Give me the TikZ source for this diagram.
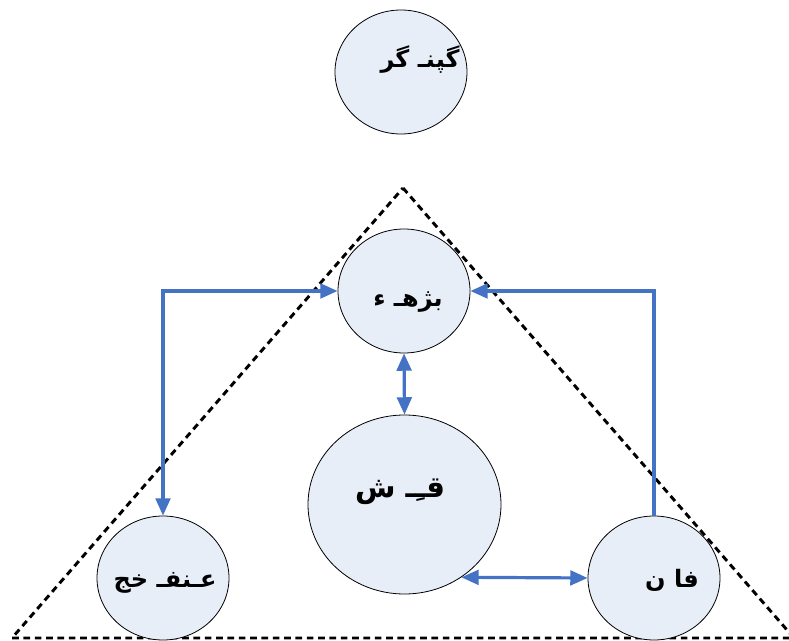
\documentclass[tikz,border=0pt]{standalone}
\usepackage{fontspec}
\newfontfamily\arabicfont[Script=Arabic]{DejaVu Sans}
\TeXXeTstate=1
\usetikzlibrary{arrows.meta,shapes.geometric}
\definecolor{cfill}{HTML}{E8EEF8}
\definecolor{cblue}{HTML}{4472C4}
\tikzset{
  bubble/.style={ellipse, draw=black, line width=0.6pt, fill=cfill, inner sep=0pt},
  tip/.tip={Triangle[length=13pt,width=11pt]},
  link/.style={draw=cblue, line width=2.4pt, -tip},
  dlink/.style={draw=cblue, line width=2.4pt, tip-tip},
  tri/.style={draw=black, line width=2.2pt, dash pattern=on 5pt off 3.5pt},
  lbl/.style={font=\arabicfont\bfseries\fontsize{18}{22}\selectfont}
}
\begin{document}
\begin{tikzpicture}[x=0.75pt,y=-0.75pt]
\useasboundingbox (0,0) rectangle (789,641);
\begin{scope}
\clip (0,0) rectangle (789,641);
% dashed triangle
\draw[tri] (403,188) -- (794,638) -- (12,638) -- cycle;
\end{scope}
% ellipses
\node[bubble, minimum width=132*0.75pt, minimum height=124*0.75pt] (top) at (401,72) {};
\node[bubble, minimum width=132*0.75pt, minimum height=124*0.75pt] (um) at (404,291) {};
\node[bubble, minimum width=193*0.75pt, minimum height=179*0.75pt] (cen) at (404.5,504.5) {};
\node[bubble, minimum width=132*0.75pt, minimum height=124*0.75pt] (bl) at (163,578) {};
\node[bubble, minimum width=132*0.75pt, minimum height=124*0.75pt] (br) at (654,578) {};
% labels
\node[lbl] (ttop) at (420,60) {\beginR گپنـ گر\endR};
\node[lbl] (tum) at (408,302) {\beginR بژهـ ء\endR};
\node[lbl, font=\arabicfont\bfseries\fontsize{22}{26}\selectfont] (tcen) at (400,492) {\beginR قـِـ ش\endR};
\node[lbl] (tbl) at (165,583) {\beginR عـنفـ خج\endR};
\node[lbl] (tbr) at (672,580) {\beginR فا ن\endR};
% connectors
\coordinate (lc) at (163,291);
\coordinate (rc) at (654,291);
\draw[dlink] (bl.north) -- (lc) -- (um.west);
\draw[link] (br.north) -- (rc) -- (um.east);
\draw[dlink] (um.south) -- (cen.north);
\draw[dlink] (cen.-52) -- (br.west);
\end{tikzpicture}
\end{document}
